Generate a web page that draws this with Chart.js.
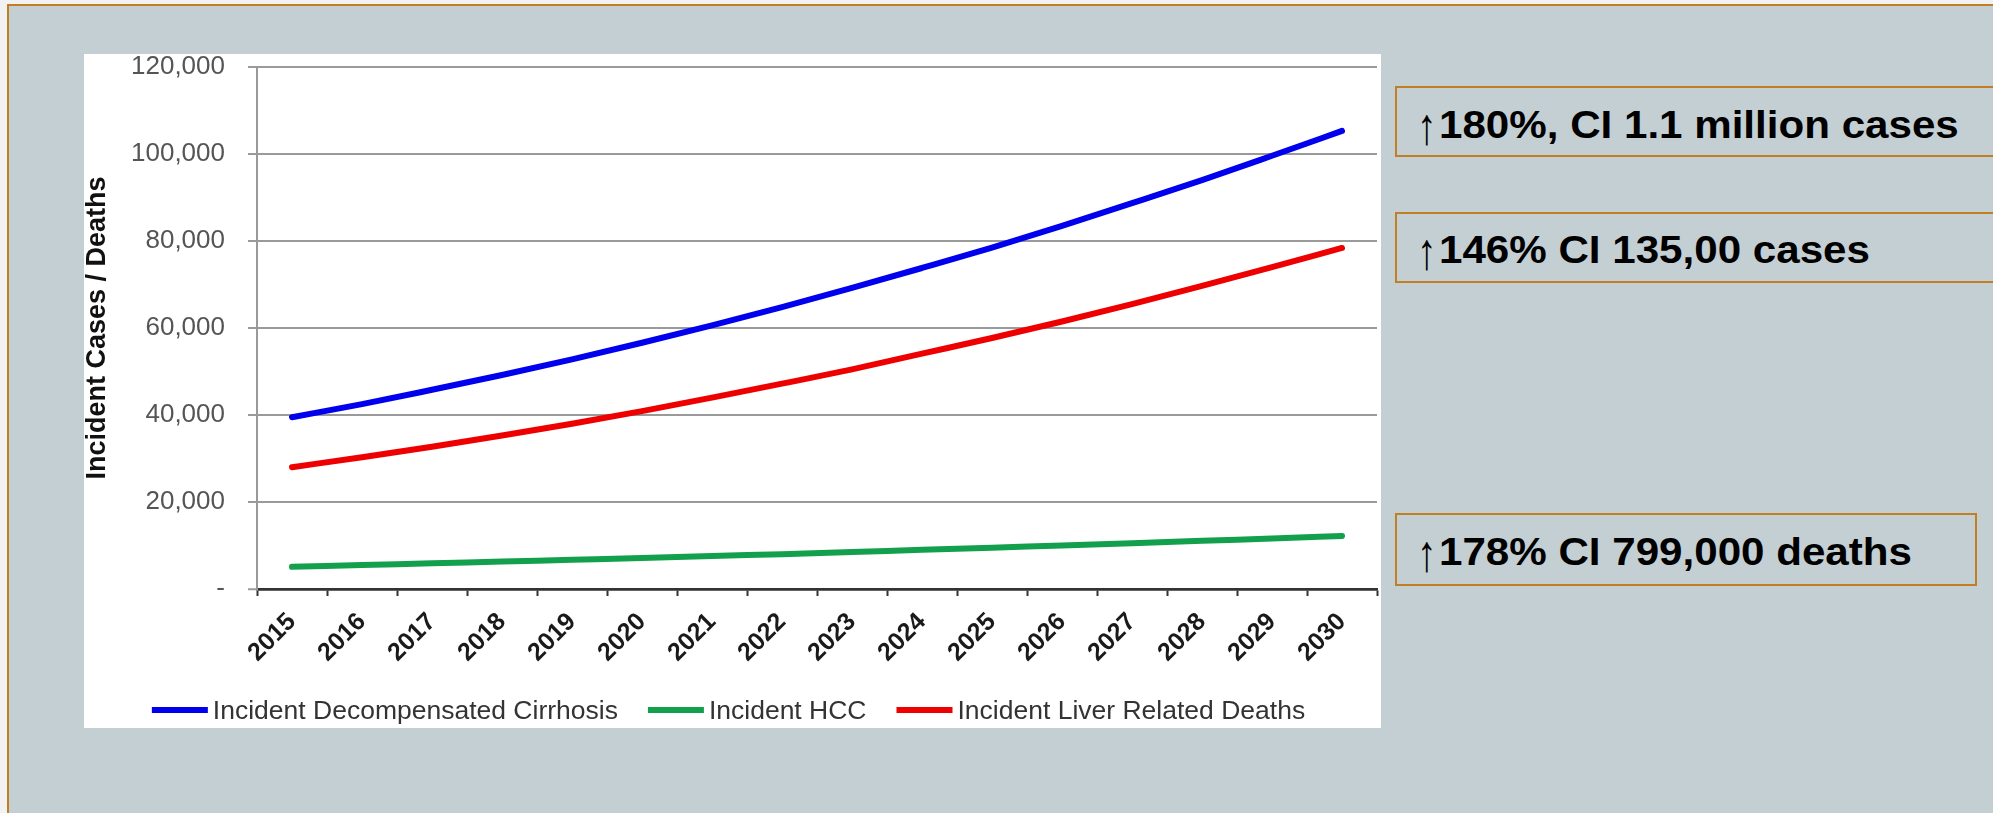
<!DOCTYPE html>
<html>
<head>
<meta charset="utf-8">
<script src="https://cdn.jsdelivr.net/npm/chart.js@4.4.1/dist/chart.umd.min.js"></script>
<style>
  html, body { margin: 0; padding: 0; }
  body {
    width: 1993px; height: 813px; overflow: hidden; position: relative;
    background: #f2f2f2;
    font-family: "Liberation Sans", Arial, sans-serif;
  }
  #frame {
    position: absolute; left: 7px; top: 4px; width: 2100px; height: 900px;
    background: #c4cfd4;
    border-left: 2px solid #c17f24; border-top: 2px solid #c17f24;
  }
  #panel {
    position: absolute; left: 84px; top: 54px; width: 1297px; height: 674px;
    background: #ffffff;
  }
  .note {
    position: absolute; left: 1395px; height: 71px; box-sizing: border-box;
    border: 2px solid #c17f24;
    color: #000; white-space: nowrap;
  }
  .note span { position: absolute; display: block; height: 39px; }
  .note .arr {
    left: 20px;
    font: 400 39px/39px "Liberation Sans", "DejaVu Sans", sans-serif;
    transform: translateY(7px) scaleY(1.32); transform-origin: 50% 36px;
  }
  .note .txt {
    left: 42px;
    font: 700 39px/39px "Liberation Sans", Arial, sans-serif;
    transform: scaleX(1.08); transform-origin: 0 50%;
  }
</style>
</head>
<body>
<div id="frame"></div>
<div id="panel"><canvas id="chart" width="1297" height="674"></canvas></div>

<div class="note" style="top:86px; width:700px;"><span class="arr" style="top:17px">↑</span><span class="txt" style="top:17px">180%, CI 1.1 million cases</span></div>
<div class="note" style="top:212px; width:700px;"><span class="arr" style="top:16px">↑</span><span class="txt" style="top:16px">146% CI 135,00 cases</span></div>
<div class="note" style="top:513px; width:582px; height:73px;"><span class="arr" style="top:17px">↑</span><span class="txt" style="top:17px">178% CI 799,000 deaths</span></div>

<script>
// Projection years
const years = ['2015','2016','2017','2018','2019','2020','2021','2022',
               '2023','2024','2025','2026','2027','2028','2029','2030'];

// Incident decompensated cirrhosis (cases per year)
const cirrhosis = [39500, 42500, 45800, 49200, 52800, 56600, 60600, 64800,
                   69200, 73800, 78500, 83500, 88700, 94000, 99600, 105300];

// Incident hepatocellular carcinoma (cases per year)
const hcc = [5100, 5500, 5900, 6300, 6700, 7100, 7600, 8000,
             8500, 9000, 9500, 10000, 10500, 11100, 11600, 12200];

// Incident liver related deaths (per year)
const liverDeaths = [28000, 30300, 32700, 35300, 38000, 40900, 44000, 47200,
                     50500, 54100, 57700, 61500, 65500, 69700, 74000, 78400];

// Value axis ticks and their printed labels
const yTickValues = [0, 20000, 40000, 60000, 80000, 100000, 120000];
const yTickLabels = ['-', '20,000', '40,000', '60,000', '80,000', '100,000', '120,000'];

const seriesNames = ['Incident Decompensated Cirrhosis', 'Incident HCC', 'Incident Liver Related Deaths'];
const seriesColors = ['#0000ee', '#13a04c', '#ee0000'];

// Legend drawn as a row of short thick lines followed by the series name
const lineLegend = {
  id: 'lineLegend',
  afterDraw(chart) {
    const ctx = chart.ctx;
    const lineLen = 56, gapText = 5, gapItem = 30, y = 656;
    ctx.save();
    ctx.font = '26.5px "Liberation Sans", Arial, sans-serif';
    const widths = chart.data.datasets.map(d => ctx.measureText(d.label).width);
    let total = 0;
    widths.forEach((w, i) => { total += lineLen + gapText + w + (i < widths.length - 1 ? gapItem : 0); });
    let x = chart.width / 2 - total / 2 - 4;
    chart.data.datasets.forEach((d, i) => {
      ctx.strokeStyle = d.borderColor;
      ctx.lineWidth = 6;
      ctx.lineCap = 'butt';
      ctx.beginPath();
      ctx.moveTo(x, y);
      ctx.lineTo(x + lineLen, y);
      ctx.stroke();
      x += lineLen + gapText;
      ctx.fillStyle = '#333333';
      ctx.textBaseline = 'alphabetic';
      ctx.textAlign = 'left';
      ctx.fillText(d.label, x, y + 9);
      x += widths[i] + gapItem;
    });
    ctx.restore();
  }
};

const makeSet = (i, values) => ({
  label: seriesNames[i],
  data: values,
  borderColor: seriesColors[i],
  backgroundColor: seriesColors[i],
  borderWidth: 6,
  pointRadius: 0,
  pointHoverRadius: 0,
  cubicInterpolationMode: 'monotone',
  borderCapStyle: 'round',
  fill: false
});

new Chart(document.getElementById('chart'), {
  type: 'line',
  data: {
    labels: years,
    datasets: [makeSet(0, cirrhosis), makeSet(1, hcc), makeSet(2, liverDeaths)]
  },
  plugins: [lineLegend],
  options: {
    responsive: false,
    animation: false,
    devicePixelRatio: 1,
    layout: { padding: { left: 0, right: 4, top: 13, bottom: 44 } },
    plugins: { legend: { display: false }, tooltip: { enabled: false } },
    scales: {
      x: {
        type: 'category',
        offset: true,
        afterFit(s) { s.height = 95; },
        grid: {
          offset: true,
          drawOnChartArea: false,
          drawTicks: true,
          tickLength: 7,
          tickColor: '#333333',
          tickWidth: 2
        },
        border: { display: true, color: '#333333', width: 2.5 },
        ticks: {
          autoSkip: false,
          maxRotation: 45,
          minRotation: 45,
          padding: 13,
          color: '#1a1a1a',
          font: { family: '"Liberation Sans", Arial, sans-serif', size: 25, weight: 'bold', lineHeight: 1 }
        }
      },
      y: {
        min: 0,
        max: 120000,
        afterFit(s) { s.width = 173; s.paddingTop = 0; s.paddingBottom = 0; },
        afterBuildTicks(s) { s.ticks = yTickValues.map(v => ({ value: v })); },
        grid: {
          color: c => (c.tick && c.tick.value === 0 ? '#333333' : '#9a9a9a'),
          lineWidth: c => (c.tick && c.tick.value === 0 ? 2.5 : 2),
          tickLength: 9,
          tickColor: '#9a9a9a',
          tickWidth: 2
        },
        border: { display: true, color: '#999999', width: 2 },
        ticks: {
          padding: 23,
          color: '#555555',
          font: { family: '"Liberation Sans", Arial, sans-serif', size: 26, lineHeight: 1 },
          callback: (v) => yTickLabels[yTickValues.indexOf(v)]
        },
        title: {
          display: true,
          text: 'Incident Cases / Deaths',
          color: '#111111',
          padding: { top: 0, bottom: 0 },
          font: { family: '"Liberation Sans", Arial, sans-serif', size: 27, weight: 'bold', lineHeight: 1 }
        }
      }
    }
  }
});
</script>
</body>
</html>
